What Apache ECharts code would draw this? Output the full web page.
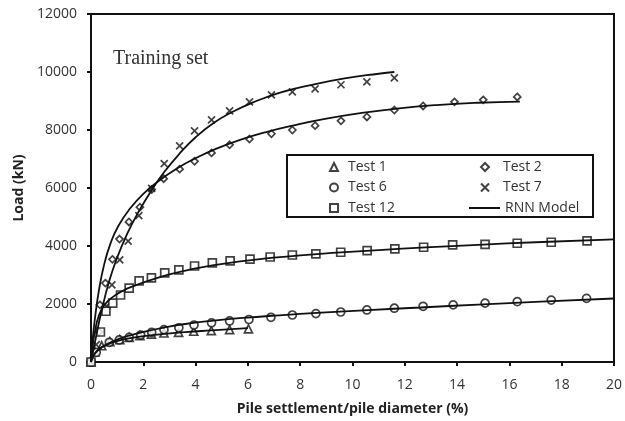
<!DOCTYPE html>
<html><head><meta charset="utf-8">
<script src="https://cdn.jsdelivr.net/npm/echarts@6/dist/echarts.min.js"></script>
<style>html,body{margin:0;padding:0;background:#fff}#c{width:625px;height:421px}</style>
</head><body><div id="c"></div>
<script>
// ---- data (x = pile settlement/pile diameter %, y = load kN) ----
var test1 = [[0,0],[0.15,345],[0.41,560],[0.72,700],[1.1,770],[1.46,850],[1.87,905],[2.31,960],[2.79,1000],[3.35,1025],[3.93,1060],[4.6,1080],[5.3,1115],[6.02,1140]];
var test2 = [[0,0],[0.3,1035],[0.34,1970],[0.55,2720],[0.82,3540],[1.09,4240],[1.45,4830],[1.87,5340],[2.32,5950],[2.78,6320],[3.39,6650],[3.96,6920],[4.61,7210],[5.3,7490],[6.06,7690],[6.9,7870],[7.7,8000],[8.57,8150],[9.56,8315],[10.55,8450],[11.6,8690],[12.7,8830],[13.9,8970],[15.0,9040],[16.3,9140]];
var test6 = [[0,0],[0.2,330],[0.7,680],[1.08,760],[1.46,850],[1.9,930],[2.32,1025],[2.79,1115],[3.36,1180],[3.94,1275],[4.61,1350],[5.3,1415],[6.04,1466],[6.88,1542],[7.7,1621],[8.6,1670],[9.55,1725],[10.55,1794],[11.6,1855],[12.7,1921],[13.85,1970],[15.07,2030],[16.3,2081],[17.6,2135],[18.95,2195]];
var test7 = [[0,0],[0.2,600],[0.6,1930],[0.8,2660],[1.1,3520],[1.42,4170],[1.83,5050],[2.32,5990],[2.8,6840],[3.39,7450],[3.96,7970],[4.61,8350],[5.3,8660],[6.06,8970],[6.9,9210],[7.7,9315],[8.57,9420],[9.56,9560],[10.55,9660],[11.6,9800]];
var test12 = [[0,0],[0.36,1035],[0.57,1750],[0.83,2030],[1.13,2310],[1.46,2550],[1.84,2795],[2.31,2900],[2.82,3070],[3.36,3175],[3.96,3310],[4.64,3415],[5.32,3485],[6.08,3550],[6.85,3620],[7.7,3690],[8.6,3726],[9.55,3785],[10.56,3840],[11.62,3900],[12.72,3957],[13.83,4036],[15.07,4054],[16.3,4095],[17.6,4130],[18.97,4175]];
// RNN model curves
var model1 = [[0,0],[0.1,230],[0.3,430],[0.6,590],[1.0,720],[1.5,820],[2.1,900],[2.8,970],[3.6,1030],[4.6,1090],[6,1170]];
var model2 = [[0,0],[0.05,650],[0.15,1500],[0.3,2450],[0.5,3350],[0.75,4100],[1.05,4700],[1.5,5300],[2.0,5800],[2.6,6250],[3.3,6680],[4,7030],[4.8,7360],[5.7,7660],[6.7,7930],[7.8,8170],[9,8390],[10.3,8580],[11.7,8740],[13.2,8860],[14.8,8940],[16.4,8980]];
var model6 = [[0,0],[0.1,230],[0.3,440],[0.6,610],[1.0,770],[1.5,920],[2.1,1060],[2.8,1190],[3.6,1310],[4.6,1420],[5.8,1520],[7.2,1610],[8.8,1700],[10.6,1790],[12.6,1880],[14.8,1980],[17.2,2080],[20,2190]];
var model7 = [[0,0],[0.2,900],[0.4,1750],[0.7,2800],[1.0,3600],[1.4,4450],[1.8,5150],[2.3,5900],[2.8,6550],[3.4,7200],[4,7750],[4.7,8250],[5.4,8620],[6.2,8950],[7.2,9280],[8.4,9550],[9.7,9780],[11,9940],[11.6,10000]];
var model12 = [[0,0],[0.05,450],[0.15,1050],[0.3,1600],[0.5,1950],[0.8,2220],[1.2,2450],[1.7,2640],[2.3,2830],[3,3020],[3.8,3190],[4.7,3340],[5.7,3470],[6.8,3580],[8,3680],[9.4,3770],[11,3860],[12.8,3950],[14.8,4040],[17,4130],[20,4230]];
var xTicks = {min:0, max:20, interval:2};
var yTicks = {min:0, max:12000, interval:2000};

var ink = '#111';
var font = '"Open Sans", "Liberation Sans", sans-serif';
var crossPath = 'path://M0,0L10,10M10,0L0,10';
function scat(name, data, symbol, size) {
  return {type:'scatter', name:name, data:data, symbol:symbol, symbolSize:size, z:2,
    itemStyle:{color:'#fff', borderColor:ink, borderWidth:1.7}};
}
function model(data) {
  return {type:'line', name:'RNN Model', data:data, showSymbol:false, symbol:'none', smooth:0.5, z:3,
    lineStyle:{color:ink, width:1.8}, itemStyle:{color:ink}};
}
var chart = echarts.init(document.getElementById('c'), null, {renderer:'canvas'});
chart.setOption({
  animation:false,
  backgroundColor:'#fff',
  grid:{left:91, right:8, top:14, bottom:58, show:true, borderColor:ink, borderWidth:2, backgroundColor:'transparent'},
  xAxis:{type:'value', min:xTicks.min, max:xTicks.max, interval:xTicks.interval,
    name:'Pile settlement/pile diameter (%)', nameLocation:'middle', nameGap:40,
    nameTextStyle:{fontFamily:font, fontSize:14, fontWeight:'bold', color:'#222'},
    axisLine:{lineStyle:{color:ink, width:2}}, axisTick:{show:true, inside:false, length:4, lineStyle:{color:ink, width:2}},
    axisLabel:{fontFamily:font, fontSize:14, color:'#333', margin:16}, splitLine:{show:false}},
  yAxis:{type:'value', min:yTicks.min, max:yTicks.max, interval:yTicks.interval,
    name:'Load (kN)', nameLocation:'middle', nameGap:61,
    nameTextStyle:{fontFamily:font, fontSize:14, fontWeight:'bold', color:'#222'},
    axisLine:{lineStyle:{color:ink, width:2}}, axisTick:{show:true, inside:false, length:4, lineStyle:{color:ink, width:2}},
    axisLabel:{fontFamily:font, fontSize:14, color:'#333', margin:14, formatter:function(v){return String(v);}}, splitLine:{show:false}},
  graphic:[
    {type:'rect', shape:{x:287, y:155, width:306, height:62}, style:{fill:'#fff', stroke:ink, lineWidth:2}, z:10},
    {type:'text', left:113, top:49, style:{text:'Training set', font:'20px "Liberation Serif", serif', fill:'#333'}, z:10}
  ],
  legend:[
    {left:324, top:155, orient:'vertical', itemWidth:8, itemHeight:8, itemGap:6.5, z:20,
      textStyle:{fontFamily:font, fontSize:14, color:'#333', padding:[0,0,0,5]}, data:['Test 1','Test 6','Test 12']},
    {left:475, top:155, orient:'vertical', itemWidth:8, itemHeight:8, itemGap:6.5, z:20,
      textStyle:{fontFamily:font, fontSize:14, color:'#333', padding:[0,0,0,9]}, data:['Test 2','Test 7']},
    {left:464, top:196, orient:'vertical', itemWidth:31, itemHeight:2, z:20,
      textStyle:{fontFamily:font, fontSize:14, color:'#333', padding:[0,0,0,0]}, data:[{name:'RNN Model', icon:'rect'}]}
  ],
  series:[
    scat('Test 1', test1, 'triangle', 8),
    scat('Test 2', test2, 'diamond', 7),
    scat('Test 6', test6, 'circle', 8),
    scat('Test 7', test7, crossPath, 7),
    scat('Test 12', test12, 'rect', 8),
    model(model1), model(model2), model(model6), model(model7), model(model12)
  ]
});
</script></body></html>
